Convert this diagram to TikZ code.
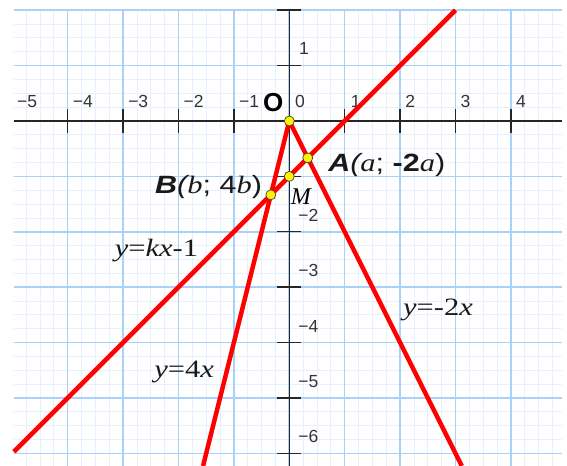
\documentclass[tikz,border=0pt]{standalone}
\usepackage{graphicx}
\usepackage{fontspec}
\setmainfont{Liberation Serif}
\setsansfont{Liberation Sans}
\definecolor{majorblue}{HTML}{A9D1FB}
\definecolor{minorblue}{HTML}{E6F1FD}
\definecolor{numgray}{HTML}{333333}
\begin{document}
\begin{tikzpicture}[x=55.4pt,y=55.4pt,
  minorgrid/.style={minorblue, line width=0.8pt},
  majorgrid/.style={majorblue, line width=1.6pt},
  axisline/.style={black!85, line width=1.4pt},
  redline/.style={red, line width=4.5pt},
  ptdot/.style={circle, fill=yellow, draw=black!75, line width=0.7pt, inner sep=0pt, minimum size=10pt},
  axlab/.style={font=\sffamily\fontsize{17.5}{17.5}\selectfont, text=numgray, inner sep=0pt},
  eqlab/.style={font=\fontsize{25}{25}\selectfont, text=black!90, inner sep=0pt},
  ptlab/.style={font=\fontsize{25}{25}\selectfont, text=black!90, inner sep=0pt},
]
\useasboundingbox (-5.222,-6.227) rectangle (5.013,2.184);
% grid
\begin{scope}
\clip (-4.97,-6.3) rectangle (4.92,2.015);
\draw[minorgrid, step=0.25] (-5.5,-6.5) grid (5.5,2.5);
\draw[majorgrid, step=1] (-5.5,-6.5) grid (5.5,2.5);
\end{scope}
% axes
\draw[axisline] (-4.97,0) -- (4.92,0);
\draw[axisline] (0,2) -- (0,-6.3);
\foreach \i in {-4,-3,-2,-1,1,2,3,4} \draw[axisline] (\i,-0.217) -- (\i,0.217);
\foreach \j in {2,1,-1,-2,-3,-4,-5,-6} \draw[axisline] (-0.217,\j) -- (0.217,\j);
% axis numbers
\node[axlab, anchor=base west] (xm5) at (-4.915,0.235) {−5};
\node[axlab, anchor=base west] (xm4) at (-3.91,0.235) {−4};
\node[axlab, anchor=base west] (xm3) at (-2.91,0.235) {−3};
\node[axlab, anchor=base west] (xm2) at (-1.91,0.235) {−2};
\node[axlab, anchor=base west] (xm1) at (-0.91,0.235) {−1};
\node[axlab, anchor=base west] (x0) at (0.10,0.235) {0};
\node[axlab, anchor=base west] (x1) at (1.11,0.235) {1};
\node[axlab, anchor=base west] (x2) at (2.09,0.235) {2};
\node[axlab, anchor=base west] (x3) at (3.09,0.235) {3};
\node[axlab, anchor=base west] (x4) at (4.09,0.235) {4};
\node[axlab, anchor=base west] (y1) at (0.175,1.195) {1};
\node[axlab, anchor=base west] (ym2) at (0.16,-1.81) {−2};
\node[axlab, anchor=base west] (ym3) at (0.16,-2.81) {−3};
\node[axlab, anchor=base west] (ym4) at (0.16,-3.81) {−4};
\node[axlab, anchor=base west] (ym5) at (0.16,-4.81) {−5};
\node[axlab, anchor=base west] (ym6) at (0.16,-5.81) {−6};
% big O
\node[font=\sffamily\bfseries\fontsize{26}{26}\selectfont, inner sep=0pt] (Olab) at (-0.29,0.33) {O};
% lines
\coordinate (L1a) at (-4.97,-5.97);
\coordinate (L1b) at (3,2);
\coordinate (L2b) at (-1.557,-6.227);
\coordinate (L3b) at (3.114,-6.227);
\coordinate (Oc) at (0,0);
\draw[redline] (L1a) -- (L1b);
\draw[redline] (Oc) -- (L2b);
\draw[redline] (Oc) -- (L3b);
% points
\node[ptdot] (O) at (0,0) {};
\node[ptdot] (A) at (1/3,-2/3) {};
\node[ptdot] (M) at (0,-1) {};
\node[ptdot] (B) at (-1/3,-4/3) {};
% point labels
\node[ptlab, anchor=east] (Blab) at (-0.49,-1.19) {\scalebox{1.22}[1]{\sffamily\bfseries\itshape B\mdseries(\rmfamily b\sffamily\upshape; 4\rmfamily\itshape b\sffamily\upshape)}};
\node[ptlab, anchor=west] (Alab) at (0.70,-0.794) {\scalebox{1.22}[1]{\sffamily\bfseries\itshape A\mdseries(\rmfamily a\sffamily\upshape; \bfseries-2\mdseries\rmfamily\itshape a\sffamily\upshape)}};
\node[font=\itshape\fontsize{24}{24}\selectfont, inner sep=0pt] (Mlab) at (0.21,-1.36) {M};
% equation labels
\node[eqlab] (e1) at (-2.397,-2.33) {\scalebox{1.22}[1]{\textit{y}=\textit{kx}-1}};
\node[eqlab] (e2) at (-1.90,-4.53) {\scalebox{1.22}[1]{\textit{y}=4\textit{x}}};
\node[eqlab] (e3) at (2.684,-3.41) {\scalebox{1.22}[1]{\textit{y}=-2\textit{x}}};
\end{tikzpicture}
\end{document}
